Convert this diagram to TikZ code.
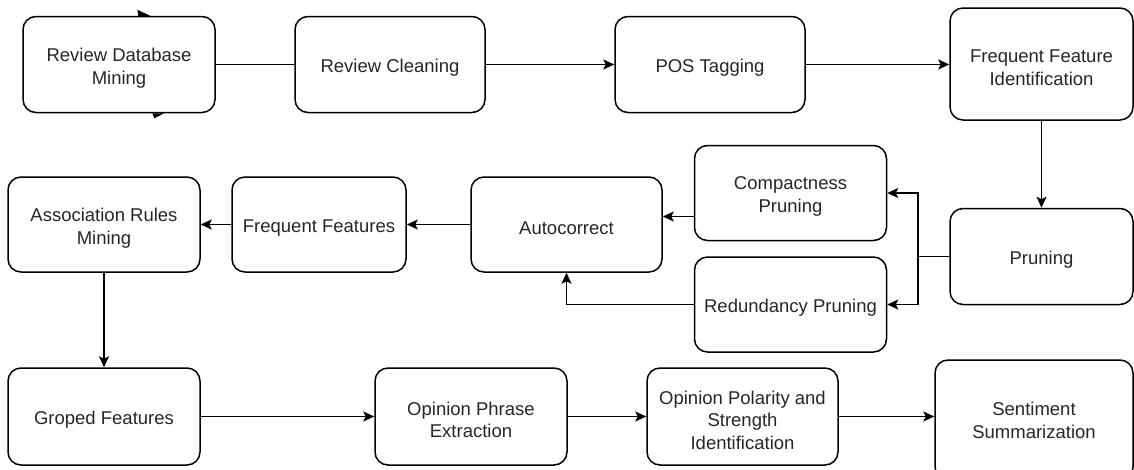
\documentclass[tikz,border=0pt]{standalone}
\usepackage{fontspec}
\setmainfont{Liberation Sans}
\usetikzlibrary{arrows.meta,calc}
\tikzset{
  box/.style={draw, line width=1.5pt, rounded corners=13pt, inner sep=0pt},
  txt/.style={align=center, inner sep=0pt, yshift=-3.5pt,
    font=\fontsize{18.5}{22.5}\selectfont, text=black!85},
  arr/.style={line width=1.5pt, -{Stealth[length=11pt,width=10pt,inset=2.5pt]}},
  ln/.style={line width=1.5pt},
}
\begin{document}
\begin{tikzpicture}[x=1pt,y=-1pt]
\useasboundingbox (0,0) rectangle (1134,469);
\clip (0,0) rectangle (1134,469);
% row 1
\node[box, minimum width=192pt, minimum height=96pt, label={[txt]center:Review Database\\Mining}] (rdm) at (119,64.5) {};
\node[box, minimum width=190pt, minimum height=96pt, label={[txt]center:Review Cleaning}] (rc) at (390,64.5) {};
\node[box, minimum width=190pt, minimum height=96pt, label={[txt]center:POS Tagging}] (pos) at (710,64.5) {};
\node[box, minimum width=183pt, minimum height=112pt, label={[txt]center:Frequent Feature\\Identification}] (ffi) at (1041.5,64) {};
% row 2
\node[box, minimum width=183pt, minimum height=96pt, label={[txt]center:Pruning}] (pr) at (1041.5,256.5) {};
\node[box, minimum width=192pt, minimum height=95pt, label={[txt]center:Compactness\\Pruning}] (cp) at (790.5,193) {};
\node[box, minimum width=192pt, minimum height=95pt, label={[txt]center:Redundancy Pruning}] (rp) at (790.5,304.5) {};
\node[box, minimum width=191pt, minimum height=95pt, label={[txt]center:Autocorrect}] (ac) at (566.5,224.5) {};
\node[box, minimum width=174pt, minimum height=95pt, label={[txt]center:Frequent Features}] (ff) at (319,224.5) {};
\node[box, minimum width=192pt, minimum height=95pt, label={[txt]center:Association Rules\\Mining}] (arm) at (104,224.5) {};
% row 3
\node[box, minimum width=192pt, minimum height=97pt, label={[txt]center:Groped Features}] (gf) at (104,416.5) {};
\node[box, minimum width=192pt, minimum height=97pt, label={[txt]center:Opinion Phrase\\Extraction}] (ope) at (471,416.5) {};
\node[box, minimum width=191pt, minimum height=97pt, label={[txt]center:Opinion Polarity and\\Strength\\Identification}] (opsi) at (742.5,416.5) {};
\node[box, minimum width=198pt, minimum height=120pt, label={[txt,yshift=3pt]center:Sentiment\\Summarization}] (ss) at (1034,420) {};
% small arrowhead fragments on the first box
\fill ($(rdm.north west)+(115,-6)$) -- ($(rdm.north west)+(128,0)$) -- ($(rdm.north west)+(116,0)$) -- cycle;
\fill ($(rdm.south west)+(130,0)$) -- ($(rdm.south west)+(142,0)$) -- ($(rdm.south west)+(132,5)$) -- cycle;
% connectors
\draw[ln] (rdm.east) -- (rc.west);
\draw[arr] (rc.east) -- (pos.west);
\draw[arr] (pos.east) -- (pos.east -| ffi.west);
\draw[arr] (ffi.south) -- (pr.north);
\coordinate (br) at (918,256.5);
\draw[ln] (pr.west) -- (br);
\draw[arr] (br) |- (cp.east);
\draw[arr] (br) |- (rp.east);
\coordinate (ca) at ($(cp.west)+(0,23.5)$);
\draw[arr] (ca) -- (ca -| ac.east);
\draw[arr] (rp.west) -| (ac.south);
\draw[arr] (ac.west) -- (ff.east);
\draw[arr] (ff.west) -- (arm.east);
\draw[arr] (arm.south) -- (gf.north);
\draw[arr] (gf.east) -- (ope.west);
\draw[arr] (ope.east) -- (opsi.west);
\draw[arr] (opsi.east) -- (opsi.east -| ss.west);
\end{tikzpicture}
\end{document}
